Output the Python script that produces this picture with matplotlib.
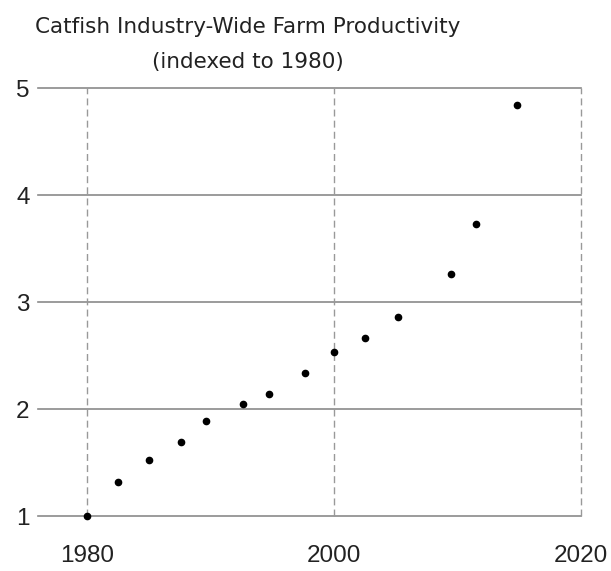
import matplotlib
matplotlib.use("Agg")
import matplotlib.pyplot as plt

# values
years = [1980.0, 1982.5, 1985.0, 1987.6, 1989.6, 1992.6, 1994.7,
         1997.6, 2000.0, 2002.5, 2005.2, 2009.5, 2011.5, 2014.8]
productivity = [1.00, 1.32, 1.53, 1.69, 1.89, 2.05, 2.14,
                2.34, 2.54, 2.67, 2.86, 3.26, 3.73, 4.84]
x_ticks = [1980, 2000, 2020]
y_ticks = [1, 2, 3, 4, 5]
title_lines = ["Catfish Industry-Wide Farm Productivity", "(indexed to 1980)"]

fig = plt.figure(figsize=(6.11, 5.71), dpi=100)
ax = fig.add_axes([38 / 611, 1 - 516.3 / 571, (581 - 38) / 611, (516.3 - 88.3) / 571])

ax.set_xlim(1976, 2020)
ax.set_ylim(1, 5)

for y in y_ticks:
    ax.axhline(y, color="#8a8a8a", lw=1.2, zorder=1, clip_on=False)
for x in x_ticks:
    ax.axvline(x, color="#999999", lw=1.0, ls=(0, (5, 3)), zorder=1, clip_on=False)

ax.plot(years, productivity, "o", color="black", ms=4.5, zorder=3, clip_on=False)

for s in ax.spines.values():
    s.set_visible(False)
ax.set_xticks(x_ticks)
ax.set_yticks(y_ticks)
ax.tick_params(length=0, labelsize=17.5)
for lab in ax.get_xticklabels() + ax.get_yticklabels():
    lab.set_fontfamily("Liberation Sans")
    lab.set_color("#222222")
ax.tick_params(axis="y", pad=6)
ax.tick_params(axis="x", pad=21)

# title, two lines, centred left of the axes middle as in the reference
fig.text(248 / 611, 1 - 27 / 571, title_lines[0], ha="center", va="center",
         fontsize=15.5, family="DejaVu Sans", color="#222222")
fig.text(248 / 611, 1 - 62 / 571, title_lines[1], ha="center", va="center",
         fontsize=15.5, family="DejaVu Sans", color="#222222")

fig.savefig("out.png", dpi=100)
